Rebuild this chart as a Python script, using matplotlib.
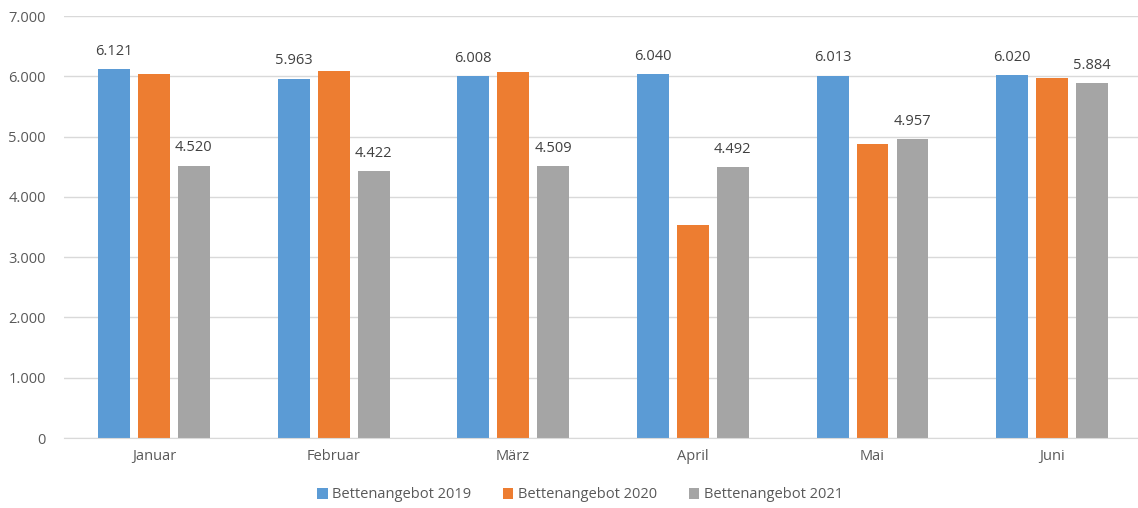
import matplotlib
matplotlib.use("Agg")
import matplotlib.pyplot as plt
import numpy as np

months = ["Januar", "Februar", "März", "April", "Mai", "Juni"]
beds_2019 = [6121, 5963, 6008, 6040, 6013, 6020]
beds_2020 = [6040, 6080, 6070, 3530, 4875, 5970]
beds_2021 = [4520, 4422, 4509, 4492, 4957, 5884]
series_names = ["Bettenangebot 2019", "Bettenangebot 2020", "Bettenangebot 2021"]
colors = ["#5B9BD5", "#ED7D31", "#A5A5A5"]
y_ticks = [0, 1000, 2000, 3000, 4000, 5000, 6000, 7000]

def de_fmt(v):
    return f"{v:,.0f}".replace(",", ".")

plt.rcParams["font.family"] = ["Open Sans", "DejaVu Sans"]
text_color = "#595959"

fig = plt.figure(figsize=(11.38, 5.08), dpi=100)
ax = fig.add_axes([64 / 1138, 70 / 508, 1078 / 1138, 422 / 508])

x = np.arange(len(months))
span = 1078 / 6
width = 32 / span
step = 40 / span
all_series = [beds_2019, beds_2020, beds_2021]
labelled = [True, False, True]
for i, (vals, name, col) in enumerate(zip(all_series, series_names, colors)):
    pos = x + (i - 1) * step
    ax.bar(pos, vals, width, color=col, label=name, zorder=3)
    if labelled[i]:
        for p, v in zip(pos, vals):
            ax.text(p, v + 170, de_fmt(v), ha="center", va="bottom",
                    fontsize=10.5, color="#404040")

ax.set_xlim(-0.5, len(months) - 0.5)
ax.set_ylim(0, 7000)
ax.set_yticks(y_ticks)
ax.set_yticklabels([de_fmt(v) for v in y_ticks])
ax.set_xticks(x)
ax.set_xticklabels(months)
ax.tick_params(axis="both", length=0, colors=text_color, labelsize=10.5)
ax.tick_params(axis="y", pad=13)
ax.tick_params(axis="x", pad=8)
ax.grid(axis="y", color="#D9D9D9", linewidth=1, zorder=0)
for s in ["top", "right", "left"]:
    ax.spines[s].set_visible(False)
ax.spines["bottom"].set_color("#D9D9D9")
ax.spines["bottom"].set_zorder(4)

leg = fig.legend(loc="center", bbox_to_anchor=(580 / 1138, 1 - 495 / 508), ncol=3,
                 frameon=False, fontsize=10.5, handlelength=0.7, handleheight=0.7,
                 handletextpad=0.3, columnspacing=2.2)
for t in leg.get_texts():
    t.set_color(text_color)

fig.savefig("out.png", dpi=100)
